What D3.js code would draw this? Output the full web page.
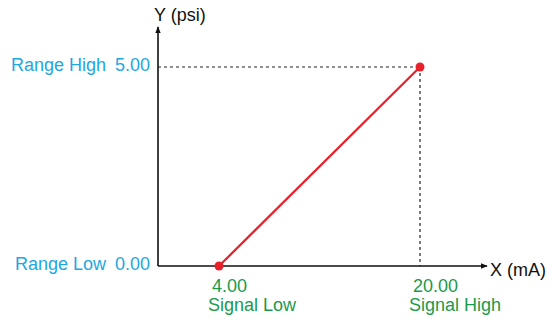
<!DOCTYPE html>
<html>
<head>
<meta charset="utf-8">
<script src="https://cdn.jsdelivr.net/npm/d3@7"></script>
<style>
  body { margin: 0; background: #fff; }
  text { font-family: "Liberation Sans", Arial, sans-serif; }
</style>
</head>
<body>
<div id="chart"></div>
<script>
// signal (mA) -> output (psi)
var signalValues = [4.00, 20.00];
var outputValues = [0.00, 5.00];
var signalLabels = ["Signal Low", "Signal High"];
var rangeLabels = ["Range Low", "Range High"];
var axisTitles = ["X (mA)", "Y (psi)"];

var width = 555, height = 320;
var origin = { x: 158, y: 266 };
var fs = 18;

var x = d3.scaleLinear()
    .domain([signalValues[0], signalValues[1]])
    .range([219, 420]);

var y = d3.scaleLinear()
    .domain([outputValues[0], outputValues[1]])
    .range([266, 67]);

var blue = "#1ea7e1", green = "#1b9a4c", red = "#e8202a";

var svg = d3.select("#chart").append("svg")
    .attr("width", width)
    .attr("height", height);

var defs = svg.append("defs");
defs.append("marker")
    .attr("id", "arrow")
    .attr("viewBox", "0 0 10 10")
    .attr("refX", 9)
    .attr("refY", 5)
    .attr("markerWidth", 7)
    .attr("markerHeight", 7)
    .attr("markerUnits", "userSpaceOnUse")
    .attr("orient", "auto")
    .append("path")
    .attr("d", "M0,1 L10,5 L0,9 Z")
    .attr("fill", "#111");

// dashed guides to the high point
var hx = x(signalValues[1]), hy = y(outputValues[1]);
svg.append("line")
    .attr("x1", origin.x).attr("y1", hy)
    .attr("x2", hx).attr("y2", hy)
    .attr("stroke", "#222").attr("stroke-width", 1.2)
    .attr("stroke-dasharray", "3,3");
svg.append("line")
    .attr("x1", hx).attr("y1", hy)
    .attr("x2", hx).attr("y2", origin.y)
    .attr("stroke", "#222").attr("stroke-width", 1.2)
    .attr("stroke-dasharray", "3,3");

// axes
svg.append("line")
    .attr("x1", origin.x).attr("y1", origin.y)
    .attr("x2", 487).attr("y2", origin.y)
    .attr("stroke", "#111").attr("stroke-width", 1.6)
    .attr("marker-end", "url(#arrow)");
svg.append("line")
    .attr("x1", origin.x).attr("y1", origin.y)
    .attr("x2", origin.x).attr("y2", 27)
    .attr("stroke", "#111").attr("stroke-width", 1.6)
    .attr("marker-end", "url(#arrow)");

// the transfer line
var pts = signalValues.map((s, i) => ({ s: s, o: outputValues[i] }));
svg.append("path")
    .datum(pts)
    .attr("d", d3.line().x(d => x(d.s)).y(d => y(d.o)))
    .attr("fill", "none")
    .attr("stroke", red)
    .attr("stroke-width", 2.2);

svg.selectAll("circle.pt")
    .data(pts)
    .enter().append("circle")
    .attr("class", "pt")
    .attr("cx", d => x(d.s))
    .attr("cy", d => y(d.o))
    .attr("r", 4.5)
    .attr("fill", red);

// y labels
svg.selectAll("text.yval")
    .data(outputValues)
    .enter().append("text")
    .attr("class", "yval")
    .attr("x", 150)
    .attr("y", d => y(d) + 4)
    .attr("text-anchor", "end")
    .attr("font-size", fs)
    .attr("fill", blue)
    .text(d => d.toFixed(2));

svg.selectAll("text.yname")
    .data(outputValues)
    .enter().append("text")
    .attr("class", "yname")
    .attr("x", 106)
    .attr("y", d => y(d) + 4)
    .attr("text-anchor", "end")
    .attr("font-size", fs)
    .attr("fill", blue)
    .text((d, i) => rangeLabels[i]);

// x labels
svg.selectAll("text.xval")
    .data(signalValues)
    .enter().append("text")
    .attr("class", "xval")
    .attr("x", d => x(d) - 7)
    .attr("y", 292)
    .attr("font-size", fs)
    .attr("fill", green)
    .text(d => d.toFixed(2));

svg.selectAll("text.xname")
    .data(signalValues)
    .enter().append("text")
    .attr("class", "xname")
    .attr("x", d => x(d) - 11)
    .attr("y", 311)
    .attr("font-size", fs)
    .attr("fill", green)
    .text((d, i) => signalLabels[i]);

// axis titles
svg.append("text")
    .attr("x", 490)
    .attr("y", 276)
    .attr("font-size", fs)
    .attr("fill", "#111")
    .text(axisTitles[0]);

svg.append("text")
    .attr("x", 154)
    .attr("y", 21)
    .attr("font-size", fs)
    .attr("fill", "#111")
    .text(axisTitles[1]);
</script>
</body>
</html>
